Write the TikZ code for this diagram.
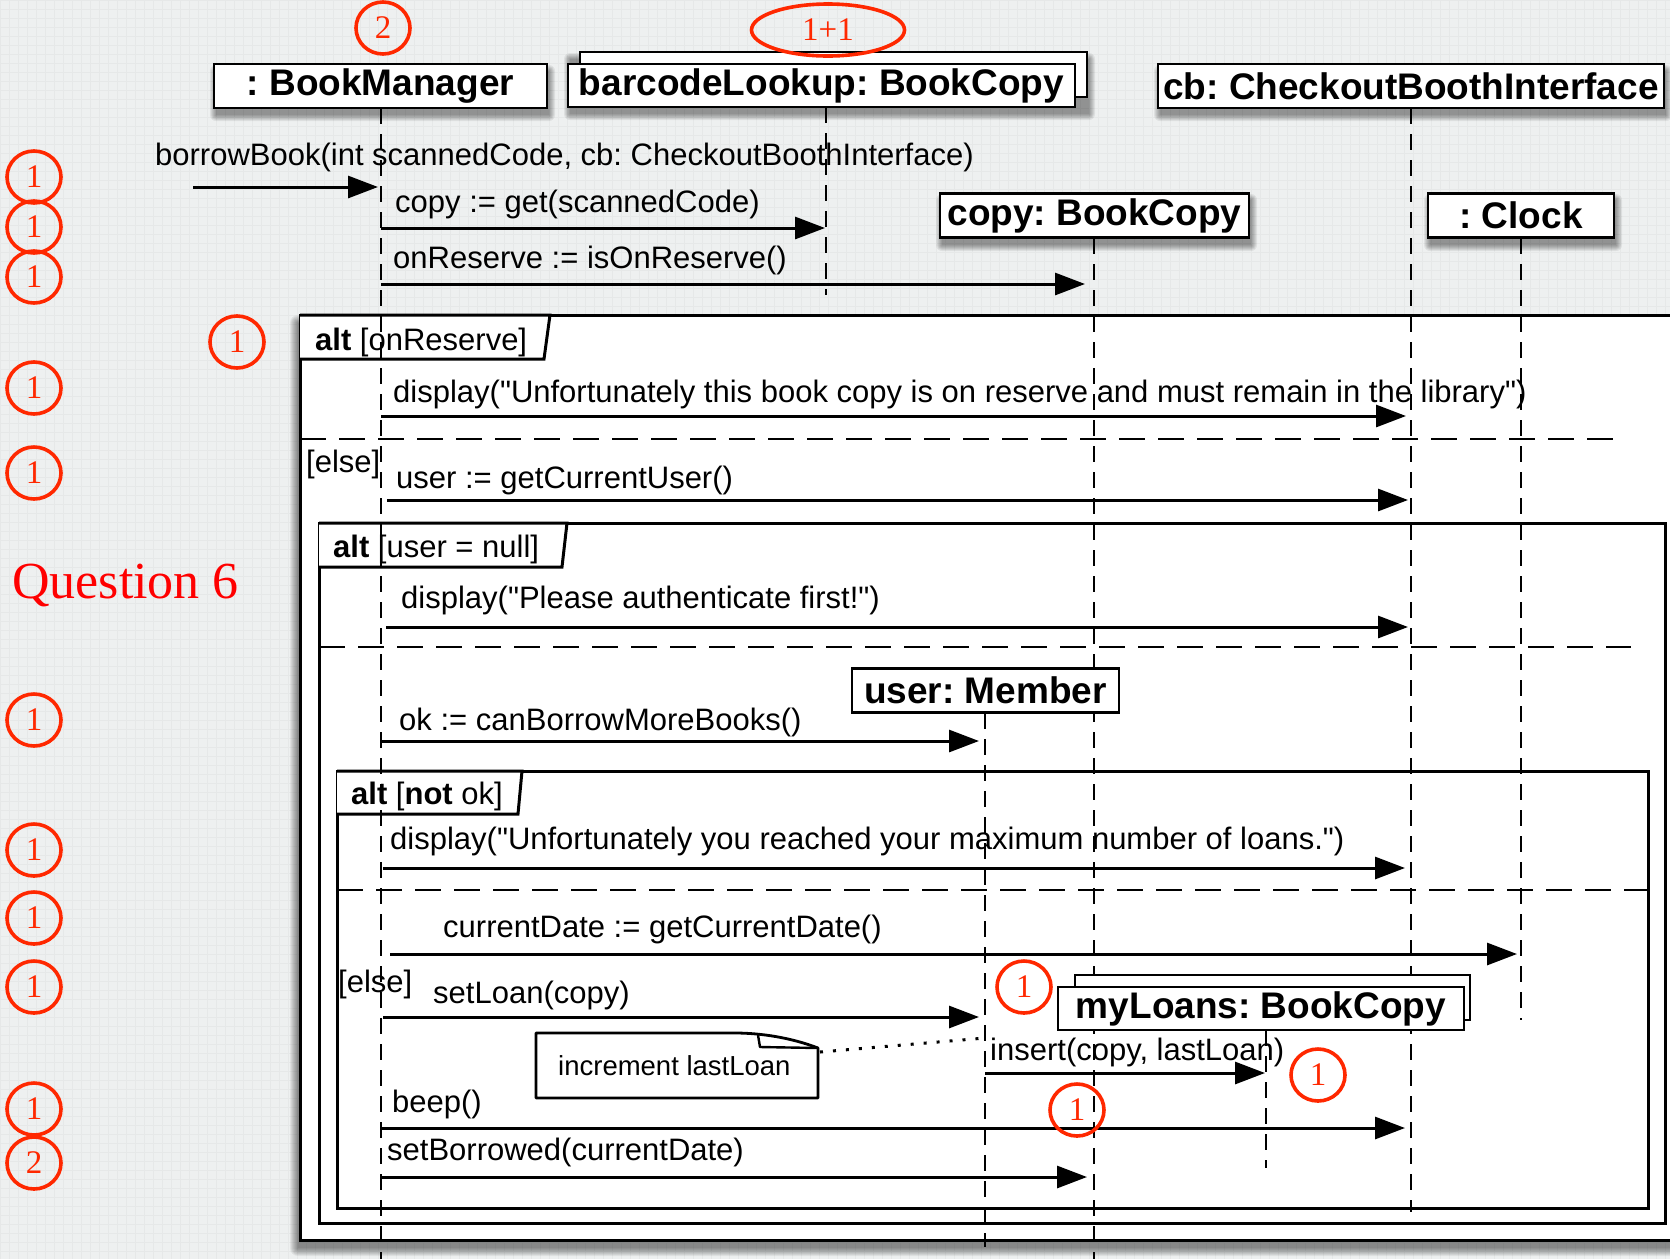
\documentclass[tikz,border=0pt]{standalone}
\usepackage{fontspec}
\setmainfont{Liberation Sans}
\newfontfamily\annfont{Liberation Serif}
\usetikzlibrary{arrows.meta,shapes.geometric}
\definecolor{bgc}{RGB}{238,240,240}
\definecolor{gridc}{RGB}{230,232,232}
\definecolor{annred}{RGB}{255,40,0}
\newcommand\mysoftshadow[4]{%
  \foreach \k in {0,...,6}{%
    \fill[black, opacity=0.065, rounded corners=\k pt] (#1-\k+2, #2-\k+7) rectangle (#3+\k+2, #4+\k+7);
  }}
\font\qqfont="Liberation Sans" at 31pt
\newcommand\qq{{\qqfont\char34}}
\tikzset{
  obj/.style={draw=black, line width=2.8pt, fill=white, minimum height=44pt, inner sep=0pt,
    font=\fontsize{37}{40}\selectfont\bfseries},
  msg/.style={line width=3pt, -{Triangle[length=30pt,width=22pt]}, shorten >=5pt},
  lbl/.style={anchor=base west, inner sep=0pt, font=\fontsize{31}{34}\selectfont},
  life/.style={line width=2.4pt, dash pattern=on 16pt off 10pt},
  sepline/.style={line width=2.8pt, dash pattern=on 26pt off 13pt},
  frameline/.style={line width=3pt},
  ann/.style={draw=annred, line width=3.6pt, ellipse, minimum width=54pt, minimum height=52pt, inner sep=0pt,
    text=annred, font=\annfont\fontsize{33}{35}\selectfont},
  notefont/.style={font=\fontsize{27.5}{30}\selectfont},
  dotline/.style={line width=3pt, dash pattern=on 3pt off 10pt},
}
\frenchspacing
\begin{document}
\frenchspacing
\begin{tikzpicture}[x=1pt,y=-1pt]
\useasboundingbox (0,0) rectangle (1670,1259);

% background
\fill[bgc] (0,0) rectangle (1670,1259);
\draw[gridc, line width=0.6pt] (0,0) grid[step=9pt] (1670,1259);

% frames
\foreach \k in {0,...,8}{%
  \fill[black, opacity=0.06, rounded corners=\k pt] (300-\k-2, 315-\k+8) rectangle (1720, 1240+\k+8);
}
\fill[white] (300,315) rectangle (1720,1240);
\draw[frameline] (1720,315) -- (300,315) -- (300,1240) -- (1720,1240);
\draw[frameline, fill=white] (300,315) -- (550,315) -- (544,359) -- (300,359);
\node[lbl] (alt1) at (315,350) {\textbf{alt} [onReserve]};
\draw[sepline] (300,439) -- (1613,439);
\node[lbl] (else1) at (306,472) {[else]};

\draw[frameline] (319,523) rectangle (1665,1223);
\draw[frameline, fill=white] (319,523) -- (567,523) -- (562,567) -- (319,567);
\node[lbl] (alt2) at (333,557) {\textbf{alt} [user = null]};
\draw[sepline] (319,647) -- (1631,647);

\draw[frameline] (337,771) rectangle (1648,1208);
\draw[frameline, fill=white] (337,771) -- (522,771) -- (518,814) -- (337,814);
\node[lbl] (alt3) at (351,804) {\textbf{alt} [\textbf{not} ok]};
\draw[sepline] (337,890) -- (1648,890);
\node[lbl] (else2) at (338,992) {[else]};

% lifelines
\coordinate (bmL) at (381,108);
\coordinate (bcL) at (826,107);
\coordinate (cpL) at (1094,238);
\coordinate (cbL) at (1411,108);
\coordinate (ckL) at (1521,238);
\coordinate (umL) at (985,713);
\coordinate (mlL) at (1266,1030);
\draw[life] (bmL) -- (bmL |- 0,1259);
\draw[life] (bcL) -- (bcL |- 0,295);
\draw[life] (cpL) -- (cpL |- 0,1259);
\draw[life] (cbL) -- (cbL |- 0,1212);
\draw[life] (ckL) -- (ckL |- 0,1020);
\draw[life] (umL) -- (umL |- 0,1247);
\draw[life] (mlL) -- (mlL |- 0,1168);

% objects
\mysoftshadow{214}{64}{547}{108}
\node[obj, minimum width=333pt] (bm) at (380.5,86) {: BookManager};
\mysoftshadow{568}{52}{1087}{107}
\node[obj, minimum width=507pt, minimum height=45pt] (bcb) at (833.5,74.5) {};
\node[obj, minimum width=507pt, minimum height=43pt] (bc) at (821.5,85.5) {barcodeLookup: BookCopy};
\mysoftshadow{1158}{64}{1664}{108}
\node[obj, minimum width=506pt] (cb) at (1411,86) {cb: CheckoutBoothInterface};
\mysoftshadow{940}{193}{1249}{238}
\node[obj, minimum width=309pt] (cp) at (1094.5,215.5) {copy: BookCopy};
\mysoftshadow{1428}{193}{1614}{238}
\node[obj, minimum width=186pt] (ck) at (1521,215.5) {: Clock};
\node[obj, minimum width=267pt] (um) at (985.5,690.5) {user: Member};
\node[obj, minimum width=395pt, minimum height=45pt] (mlb) at (1272.5,997.5) {};
\node[obj, minimum width=406pt, minimum height=43pt] (ml) at (1261,1008.5) {myLoans: BookCopy};

% messages
\coordinate (entry) at (193,187);
\draw[msg, shorten >=3pt] (entry) -- (bmL |- entry);
\node[lbl] (t1) at (155,165) {borrowBook(int scannedCode, cb: CheckoutBoothInterface)};

\draw[msg, shorten >=1pt] (bmL |- 0,228) -- (bcL |- 0,228);
\node[lbl] (t2) at (395,212) {copy := get(scannedCode)};

\draw[msg, shorten >=9pt] (bmL |- 0,284) -- (cpL |- 0,284);
\node[lbl] (t3) at (393,268) {onReserve := isOnReserve()};

\draw[msg] (bmL |- 0,416) -- (cbL |- 0,416);
\node[lbl] (t4) at (393,402) {display(\qq Unfortunately this book copy is on reserve and must remain in the library\qq)};

\draw[msg, shorten >=3pt] ([xshift=6pt]bmL |- 0,500) -- (cbL |- 0,500);
\node[lbl] (t5) at (396,488) {user := getCurrentUser()};

\draw[msg, shorten >=3pt] ([xshift=5pt]bmL |- 0,627) -- (cbL |- 0,627);
\node[lbl] (t6) at (401,608) {display(\qq Please authenticate first!\qq)};

\draw[msg, shorten >=6pt] (bmL |- 0,741) -- (umL |- 0,741);
\node[lbl] (t7) at (399,730) {ok := canBorrowMoreBooks()};

\draw[msg, shorten >=6pt] ([xshift=2pt]bmL |- 0,868) -- (cbL |- 0,868);
\node[lbl] (t8) at (390,849) {display(\qq Unfortunately you reached your maximum number of loans.\qq)};

\draw[msg, shorten >=4pt] ([xshift=9pt]bmL |- 0,954) -- (ckL |- 0,954);
\node[lbl] (t9) at (443,937) {currentDate := getCurrentDate()};

\draw[msg, shorten >=6pt] ([xshift=2pt]bmL |- 0,1017) -- (umL |- 0,1017);
\node[lbl] (t10) at (433,1003) {setLoan(copy)};

\draw[msg, shorten >=1pt] (umL |- 0,1073) -- (mlL |- 0,1073);
\node[lbl] (t11) at (990,1060) {insert(copy, lastLoan)};

\draw[msg, shorten >=6pt] (bmL |- 0,1128) -- (cbL |- 0,1128);
\node[lbl] (t12) at (392,1112) {beep()};

\draw[msg, shorten >=7pt] (bmL |- 0,1177) -- (cpL |- 0,1177);
\node[lbl] (t13) at (387,1160) {setBorrowed(currentDate)};

% note
\draw[line width=2.8pt, fill=white, line join=round] (536,1033) -- (735,1033)
  .. controls (762,1033) and (792,1038) .. (818,1048) -- (818,1098) -- (536,1098) -- cycle;
\draw[line width=2.4pt, line join=round] (758,1035) -- (760,1047) -- (818,1048);
\node[notefont, anchor=base west, inner sep=0pt] (note) at (558,1075) {increment lastLoan};
\coordinate (noteR) at (820,1052);
\draw[dotline] (noteR) -- (umL |- 0,1038);

% annotations
\node[ann] (a1) at (34,177) {1};
\node[ann] (a2) at (34,227) {1};
\node[ann] (a3) at (34,277) {1};
\node[ann] (a4) at (237,342) {1};
\node[ann] (a5) at (34,388) {1};
\node[ann] (a6) at (34,473) {1};
\node[ann] (a7) at (34,720) {1};
\node[ann] (a8) at (34,850) {1};
\node[ann] (a9) at (34,918) {1};
\node[ann] (a10) at (34,987) {1};
\node[ann] (a11) at (34,1109) {1};
\node[ann] (a12) at (34,1163) {2};
\node[ann] (a13) at (383,28) {2};
\node[ann, minimum width=153pt, minimum height=52pt] (a14) at (828,30) {1+1};
\node[ann] (a15) at (1024,987) {1};
\node[ann] (a16) at (1077,1110) {1};
\node[ann] (a17) at (1318,1075) {1};
\node[anchor=base west, inner sep=0pt, text=red, font=\annfont\fontsize{52}{56}\selectfont] (q6) at (12,598) {Question 6};
\end{tikzpicture}
\end{document}
